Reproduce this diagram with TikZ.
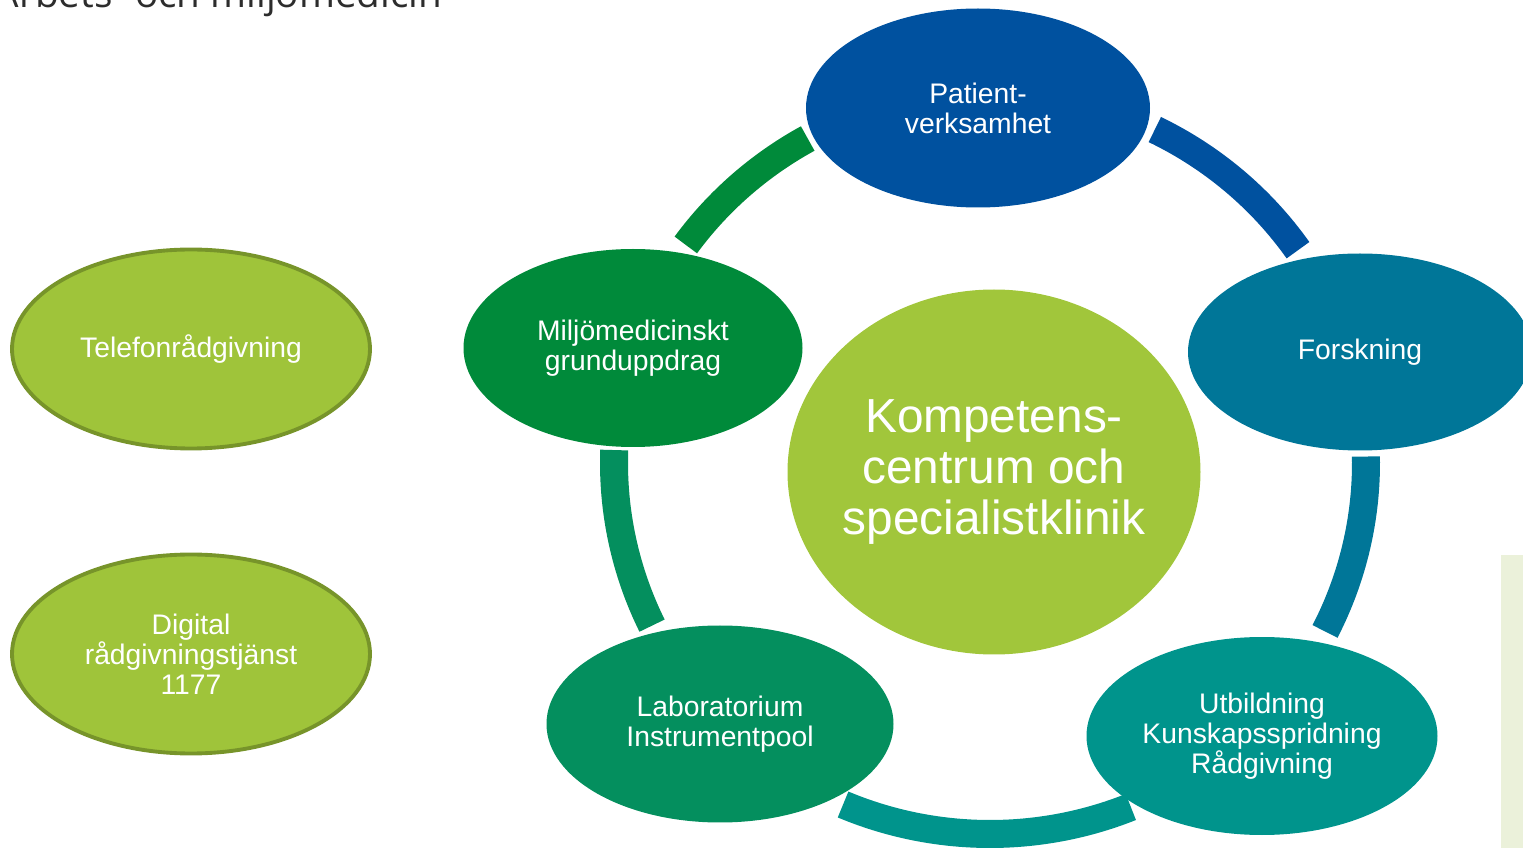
\documentclass[tikz,border=0pt]{standalone}
\usepackage{fontspec}
\setmainfont{Liberation Sans}
\newfontfamily\titlefont{Open Sans}
\usetikzlibrary{shapes.geometric}

\definecolor{patientblue}{RGB}{0,81,159}
\definecolor{forskblue}{RGB}{0,118,152}
\definecolor{utbteal}{RGB}{0,148,140}
\definecolor{labgreen}{RGB}{4,143,94}
\definecolor{miljogreen}{RGB}{0,138,58}
\definecolor{centergreen}{RGB}{161,198,59}
\definecolor{sidegreen}{RGB}{159,196,58}
\definecolor{sideborder}{RGB}{119,148,42}
\definecolor{titlegray}{RGB}{45,45,45}
\definecolor{panelgreen}{RGB}{235,241,218}

\tikzset{
	bubble/.style={ellipse, inner sep=0pt, text=white, align=center,
		font=\fontsize{8.05}{8.5}\selectfont},
	sidebubble/.style={bubble, fill=sidegreen, draw=sideborder, line width=1.1pt,
		minimum width=3.58cm, minimum height=1.99cm},
	ringarc/.style={line width=0.28cm},
}

\begin{document}
\begin{tikzpicture}
			\useasboundingbox (0,0) rectangle (15.23,8.48);

			\def\Rx{3.76};
			\def\Ry{3.71};
			\coordinate (ring) at (9.90,3.85);

			% heading, cut off at the top
			\node [anchor=base east, inner sep=0pt, text=titlegray, font=\titlefont\fontsize{11}{12}\selectfont] (title) at (4.43,8.40) {Arbets- och miljömedicin};

			% panel at the right edge
			\fill [panelgreen] (15.01,0) rectangle (15.40,2.93);

			\begin{scope}
				\foreach \c/\a/\b in {patientblue/64/35, forskblue/1/-27, utbteal/-68/-113, labgreen/206/178, miljogreen/144/119}
				{
					\draw [ringarc, \c] ([shift={({\Rx*cos(\a)},{\Ry*sin(\a)})}]ring) arc [start angle=\a, end angle=\b, x radius=\Rx, y radius=\Ry];
				}
			\end{scope}

			\begin{scope}
				\node [bubble, fill=patientblue, minimum width=3.44cm, minimum height=1.99cm] (patient) at (9.78,7.40) {Patient-\\verksamhet};
				\node [bubble, fill=forskblue, minimum width=3.44cm, minimum height=1.97cm] (forskning) at (13.60,4.96) {Forskning};
				\node [bubble, fill=utbteal, minimum width=3.51cm, minimum height=1.98cm] (utbildning) at (12.62,1.12) {Utbildning\\Kunskapsspridning\\Rådgivning};
				\node [bubble, fill=labgreen, minimum width=3.47cm, minimum height=1.97cm] (lab) at (7.20,1.24) {Laboratorium\\Instrumentpool};
				\node [bubble, fill=miljogreen, minimum width=3.39cm, minimum height=1.98cm] (miljo) at (6.33,5.00) {Miljömedicinskt\\grunduppdrag};
				\node [bubble, fill=centergreen, inner xsep=-2mm, minimum width=4.13cm, minimum height=3.65cm, font=\fontsize{13.6}{14.5}\selectfont] (centre) at (9.94,3.76) {Kompetens-\\centrum och\\specialistklinik};
			\end{scope}

			\begin{scope}
				\node [sidebubble] (telefon) at (1.91,4.99) {Telefonrådgivning};
				\node [sidebubble] (digital) at (1.91,1.94) {Digital\\rådgivningstjänst\\1177};
			\end{scope}
		\end{tikzpicture}
\end{document}
